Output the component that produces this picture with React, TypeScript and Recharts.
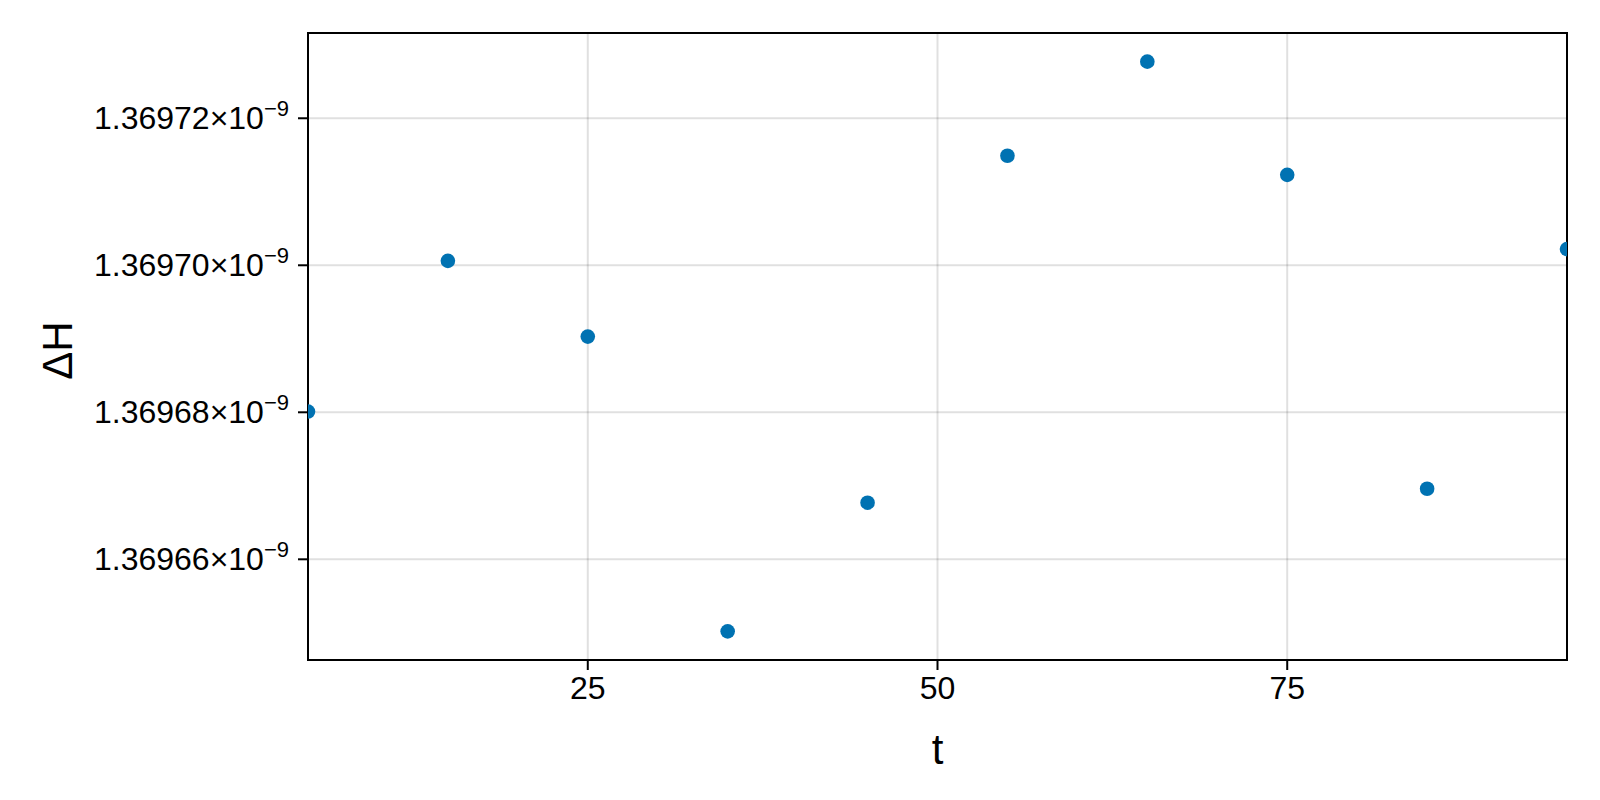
import { ScatterChart, Scatter, XAxis, YAxis, CartesianGrid, ReferenceArea, Label } from 'recharts';

// t values and ΔH values (in units of 1e-9)
const T_VALUES = [5, 15, 25, 35, 45, 55, 65, 75, 85, 95];
const DELTA_H = [
  1.3696801, 1.3697006, 1.3696903, 1.3696502, 1.3696677, 1.3697149, 1.3697277, 1.3697123, 1.3696696,
  1.3697022,
];
const X_TICKS = [25, 50, 75];
const Y_TICKS = [1.36966, 1.36968, 1.3697, 1.36972];
const X_DOMAIN: [number, number] = [5, 95];
const Y_DOMAIN: [number, number] = [1.3696463, 1.3697316];

const FONT = '"Liberation Sans", Arial, sans-serif';
const BLUE = '#0072B2';

const points = T_VALUES.map((t, i) => ({ t, dh: DELTA_H[i] }));

function YTick({ x, y, payload }: any) {
  return (
    <text x={x} y={y} dy="0.35em" textAnchor="end" fontSize={32} fill="#000" fontFamily={FONT}>
      {payload.value.toFixed(5)}×10
      <tspan dy={-13} fontSize={22}>
        −9
      </tspan>
    </text>
  );
}

export default function App() {
  return (
    <div style={{ position: 'absolute', left: 0, top: 0, width: 1600, height: 800, background: '#fff' }}>
      <ScatterChart width={1600} height={800} margin={{ top: 33, right: 33, left: 0, bottom: 0 }}>
        <CartesianGrid stroke="#000" strokeOpacity={0.12} strokeWidth={2} />
        <XAxis
          type="number"
          dataKey="t"
          domain={X_DOMAIN}
          ticks={X_TICKS}
          allowDataOverflow
          height={140}
          axisLine={false}
          stroke="#000"
          tickLine={{ stroke: '#000', strokeWidth: 2 }}
          tickSize={10}
          tickMargin={6}
          tick={{ fontSize: 32, fill: '#000', fontFamily: FONT }}
        >
          <Label
            content={({ viewBox }: any) => (
              <text
                x={viewBox.x + viewBox.width / 2}
                y={viewBox.y + 104}
                textAnchor="middle"
                fontSize={42}
                fill="#000"
                fontFamily={FONT}
              >
                t
              </text>
            )}
          />
        </XAxis>
        <YAxis
          type="number"
          dataKey="dh"
          domain={Y_DOMAIN}
          ticks={Y_TICKS}
          allowDataOverflow
          width={308}
          axisLine={false}
          stroke="#000"
          tickLine={{ stroke: '#000', strokeWidth: 2 }}
          tickSize={10}
          tickMargin={9}
          tick={<YTick />}
        >
          <Label
            content={({ viewBox }: any) => {
              const cx = 72;
              const cy = viewBox.y + viewBox.height / 2 + 4;
              return (
                <text
                  x={cx}
                  y={cy}
                  transform={`rotate(-90, ${cx}, ${cy})`}
                  textAnchor="middle"
                  fontSize={42}
                  fill="#000"
                  fontFamily={FONT}
                >
                  ΔH
                </text>
              );
            }}
          />
        </YAxis>
        <Scatter
          data={points}
          isAnimationActive={false}
          shape={(p: any) => <circle cx={p.cx} cy={p.cy} r={7.3} fill={BLUE} />}
        />
        <ReferenceArea
          x1={X_DOMAIN[0]}
          x2={X_DOMAIN[1]}
          y1={Y_DOMAIN[0]}
          y2={Y_DOMAIN[1]}
          fill="none"
          fillOpacity={0}
          stroke="#000"
          strokeWidth={2}
        />
      </ScatterChart>
    </div>
  );
}
